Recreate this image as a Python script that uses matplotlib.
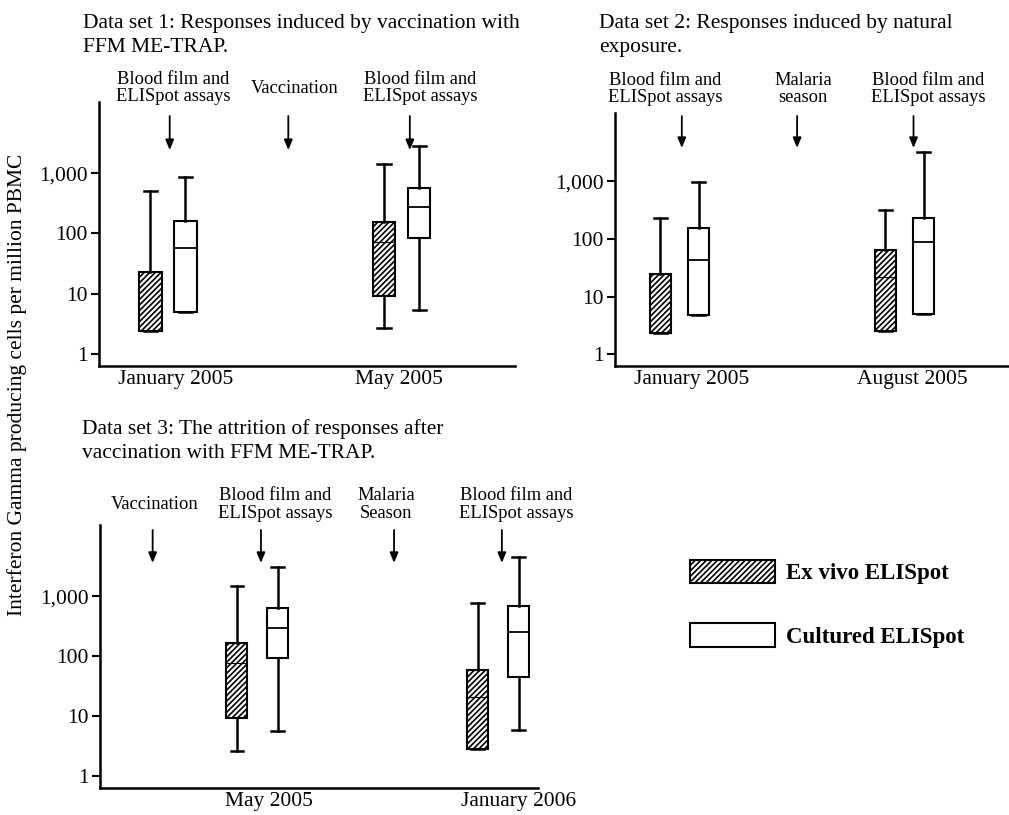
import numpy as np
import matplotlib.pyplot as plt
from matplotlib.patches import Patch
from matplotlib.ticker import NullLocator

plt.rcParams['font.family'] = 'Liberation Serif'
plt.rcParams['hatch.linewidth'] = 1.2

# each row: [lower whisker, q1, median, q3, upper whisker]
ds1_times = ["January 2005", "May 2005"]
ds1_exvivo = [[2.4, 2.4, 2.4, 23, 510], [2.7, 9.2, 72, 155, 1440]]
ds1_cultured = [[5.0, 5.0, 58, 162, 870], [5.4, 84, 277, 570, 2860]]

ds2_times = ["January 2005", "August 2005"]
ds2_exvivo = [[2.3, 2.3, 2.3, 25, 236], [2.5, 2.5, 22, 65, 313]]
ds2_cultured = [[4.8, 4.8, 44, 158, 960], [5.0, 5.0, 90, 236, 3200]]

ds3_times = ["May 2005", "January 2006"]
ds3_exvivo = [[2.6, 9.2, 76, 165, 1470], [2.8, 2.8, 21, 58, 760]]
ds3_cultured = [[5.6, 93, 295, 630, 3020], [5.8, 45, 250, 680, 4470]]

group_pos = [1, 3]

# where the date labels sit under each panel
ds1_label_pos = [1.066, 2.98]
ds2_label_pos = [1.11, 3.07]
ds3_label_pos = [1.10, 3.17]

# timeline events: (arrow x, label x, label)
assay = "Blood film and\nELISpot assays"
ds1_events = [(1.015, 1.045, assay), (2.03, 2.08, "Vaccination"), (3.07, 3.16, assay)]
ds2_events = [(1.02, 0.87, assay), (2.045, 2.10, "Malaria\nseason"), (3.08, 3.21, assay)]
ds3_events = [(0.131, 0.148, "Vaccination"), (1.03, 1.146, assay),
              (2.135, 2.07, "Malaria\nSeason"), (3.03, 3.15, assay)]

HATCH = '//////'

W, H = 1009, 815
fig = plt.figure(figsize=(W / 100, H / 100), dpi=100)


def px_axes(left, top, right, bottom):
    return fig.add_axes([left / W, 1 - bottom / H, (right - left) / W, (bottom - top) / H])


def to_stats(rows):
    return [dict(whislo=r[0], q1=r[1], med=r[2], q3=r[3], whishi=r[4], fliers=[]) for r in rows]


def draw_panel(ax, xlim, times, label_pos, exvivo, cultured, off, width, events, arrow_y, label_y):
    ax.set_yscale('log')
    ax.set_ylim(0.62, 15500)
    ax.set_xlim(*xlim)
    pos = np.array(group_pos, dtype=float)
    common = dict(widths=width, capwidths=width * 0.6, patch_artist=True,
                  showfliers=False, manage_ticks=False,
                  whiskerprops=dict(color='black', linewidth=1.8),
                  capprops=dict(color='black', linewidth=1.8))
    ax.bxp(to_stats(exvivo), positions=pos - off,
           boxprops=dict(facecolor='white', edgecolor='black', linewidth=1.5, hatch=HATCH),
           medianprops=dict(color='black', linewidth=0.8), **common)
    ax.bxp(to_stats(cultured), positions=pos + off,
           boxprops=dict(facecolor='white', edgecolor='black', linewidth=1.5),
           medianprops=dict(color='black', linewidth=1.3), **common)

    ax.set_yticks([1, 10, 100, 1000])
    ax.set_yticklabels(['1', '10', '100', '1,000'])
    ax.yaxis.set_minor_locator(NullLocator())
    ax.set_xticks(label_pos)
    ax.set_xticklabels(times)
    ax.tick_params(axis='x', length=0, pad=3, labelsize=15.5)
    ax.tick_params(axis='y', length=6, width=1.5, pad=2, labelsize=15.5)
    for side in ['top', 'right']:
        ax.spines[side].set_visible(False)
    for side in ['left', 'bottom']:
        ax.spines[side].set_linewidth(1.8)

    trans = ax.get_xaxis_transform()
    for ax_x, lx, txt in events:
        ax.annotate('', xy=(ax_x, arrow_y[1]), xytext=(ax_x, arrow_y[0]),
                    xycoords=trans, textcoords=trans,
                    arrowprops=dict(arrowstyle='-|>,head_length=0.6,head_width=0.25',
                                    color='black', lw=1.3, shrinkA=0, shrinkB=0))
        ax.text(lx, label_y, txt, transform=trans, ha='center', va='center',
                fontsize=13.3, linespacing=1.05, clip_on=False)


ax1 = px_axes(99, 102, 515, 366)
draw_panel(ax1, (0.41, 3.97), ds1_times, ds1_label_pos, ds1_exvivo, ds1_cultured,
           0.15, 0.19, ds1_events, (0.947, 0.818), 1.053)

ax2 = px_axes(615, 113, 1008, 366)
draw_panel(ax2, (0.426, 3.92), ds2_times, ds2_label_pos, ds2_exvivo, ds2_cultured,
           0.17, 0.19, ds2_events, (0.988, 0.862), 1.095)

ax3 = px_axes(100, 525, 538, 788)
draw_panel(ax3, (-0.306, 3.33), ds3_times, ds3_label_pos, ds3_exvivo, ds3_cultured,
           0.17, 0.175, ds3_events, (0.981, 0.856), 1.078)

title_kw = dict(fontsize=15.5, va='top', ha='left', linespacing=1.35)
fig.text(83 / W, 1 - 14 / H,
         "Data set 1: Responses induced by vaccination with\nFFM ME-TRAP.", **title_kw)
fig.text(599 / W, 1 - 14 / H,
         "Data set 2: Responses induced by natural\nexposure.", **title_kw)
fig.text(82 / W, 1 - 419 / H,
         "Data set 3: The attrition of responses after\nvaccination with FFM ME-TRAP.", **title_kw)

fig.text(17 / W, 1 - 385 / H, "Interferon Gamma producing cells per million PBMC",
         rotation=90, ha='center', va='center', fontsize=15.5)

handles = [Patch(facecolor='white', edgecolor='black', linewidth=1.5, hatch=HATCH),
           Patch(facecolor='white', edgecolor='black', linewidth=1.5)]
fig.legend(handles, ["Ex vivo ELISpot", "Cultured ELISpot"],
           loc='upper left', bbox_to_anchor=(690 / W, 1 - 560 / H),
           frameon=False, borderpad=0, borderaxespad=0,
           handlelength=3.7, handleheight=1.2, handletextpad=0.48,
           labelspacing=1.7, prop=dict(weight='bold', size=16.5))

fig.savefig('out.png', dpi=100)
